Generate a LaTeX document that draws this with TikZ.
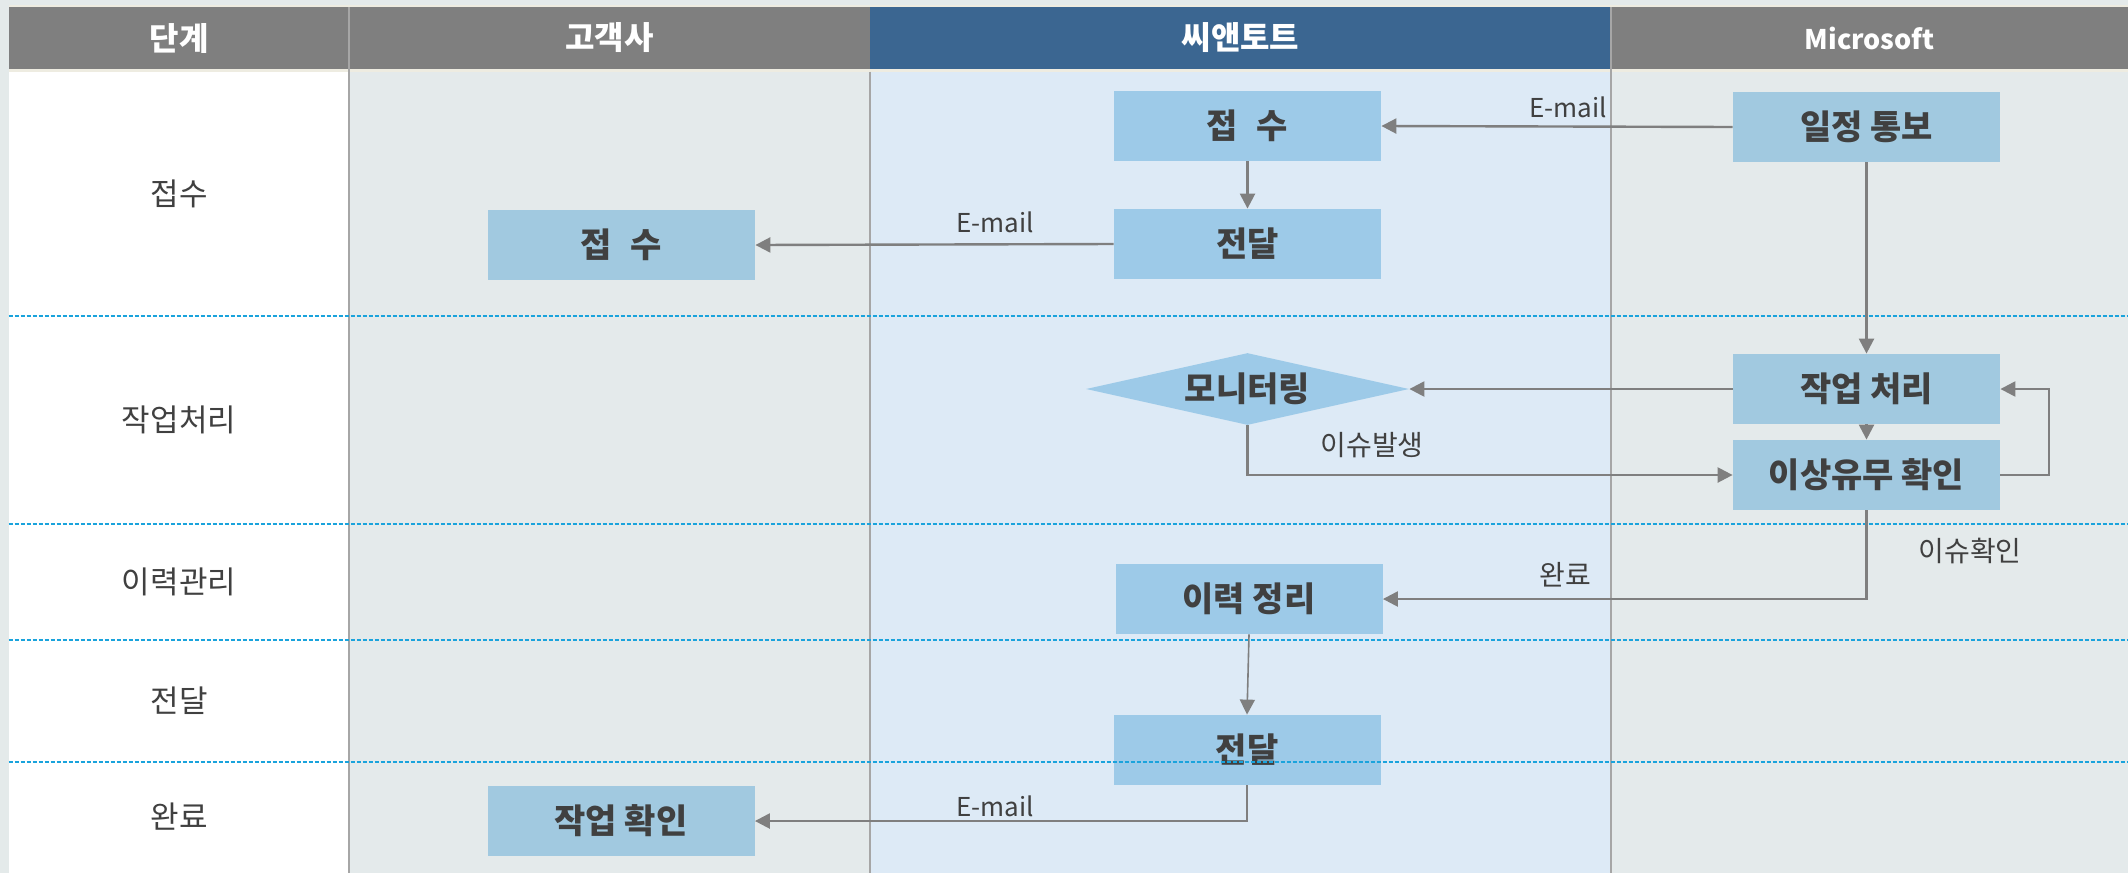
\documentclass[tikz,border=0pt]{standalone}
\usepackage{fontspec}
\setmainfont{Noto Sans CJK KR}
\usetikzlibrary{shapes.geometric,arrows.meta}
\definecolor{outerbg}{HTML}{E4EAEA}
\definecolor{beigeln}{HTML}{EEECE1}
\definecolor{hdrgray}{HTML}{7F7F7F}
\definecolor{hdrblue}{HTML}{3B6691}
\definecolor{colgray}{HTML}{E4EAEB}
\definecolor{colblue}{HTML}{DDEAF6}
\definecolor{sepgray}{HTML}{A6A6A6}
\definecolor{dashblue}{HTML}{1AA3DC}
\definecolor{boxC}{HTML}{9DCAE8}
\definecolor{boxM}{HTML}{A1C9E0}
\definecolor{txt}{HTML}{404040}
\definecolor{arr}{HTML}{7F7F7F}
\begin{document}
\begin{tikzpicture}[x=0.5pt,y=-0.5pt,
  hdr/.style={text=white,inner sep=0pt,font=\fontsize{16pt}{19pt}\selectfont\bfseries},
  rowlbl/.style={text=txt,inner sep=0pt,font=\fontsize{15.5pt}{18pt}\selectfont},
  proc/.style={rectangle,inner sep=0pt,minimum width=133.5pt,minimum height=35pt,text=txt,font=\fontsize{17pt}{20pt}\selectfont\bfseries},
  procC/.style={proc,fill=boxC},
  procM/.style={proc,fill=boxM},
  decision/.style={diamond,inner sep=0pt,shape aspect=4.49,minimum width=161.5pt,minimum height=36pt,fill=boxC,text=txt,font=\fontsize{17pt}{20pt}\selectfont\bfseries},
  flow/.style={draw=arr,line width=1.2pt,-{Triangle[length=7.5pt,width=7.5pt]}},
  thinflow/.style={draw=arr,line width=0.8pt,-{Triangle[length=7.5pt,width=7.5pt]}},
  flowlbl/.style={text=txt,inner sep=0pt,font=\fontsize{13pt}{15pt}\selectfont},
  korlbl/.style={flowlbl,font=\fontsize{14pt}{16pt}\selectfont},
  rowsep/.style={draw=dashblue,line width=0.6pt,dash pattern=on 2pt off 1pt},
  colsep/.style={draw=sepgray,line width=0.8pt}
]
\useasboundingbox (0,0) rectangle (2128,873);
% backgrounds
\fill[outerbg] (0,0) rectangle (2128,873);
\fill[beigeln] (8.7,5) rectangle (2128,72);
\fill[hdrgray] (8.7,7) rectangle (870,68.5);
\fill[hdrblue] (870,7) rectangle (1611,68.5);
\fill[hdrgray] (1611,7) rectangle (2128,68.5);
\fill[white] (8.7,71.5) rectangle (349,873);
\fill[colgray] (349,71.5) rectangle (870,873);
\fill[colblue] (870,71.5) rectangle (1611,873);
\fill[colgray] (1611,71.5) rectangle (2128,873);
% column separators
\draw[colsep] (349,7) -- (349,873);
\draw[colsep] (870,71.5) -- (870,873);
\draw[colsep] (1611,7) -- (1611,873);
% headers
\node[hdr] (h1) at (179,38) {단계};
\node[hdr] (h2) at (609.5,38) {고객사};
\node[hdr] (h3) at (1240.5,38) {씨앤토트};
\node[hdr,font=\fontsize{13.5pt}{16pt}\selectfont\bfseries] (h4) at (1869.5,38) {Microsoft};
% row labels
\node[rowlbl] (r1) at (179,194) {접수};
\node[rowlbl] (r2) at (179,420) {작업처리};
\node[rowlbl] (r3) at (179,582) {이력관리};
\node[rowlbl] (r4) at (179,701) {전달};
\node[rowlbl] (r5) at (179,817) {완료};
% process nodes
\node[procC] (cRecv) at (1247.5,126) {접\hspace{0.55em}수};
\node[procC] (cSend1) at (1247.5,244) {전달};
\node[procM] (kRecv) at (621.5,245) {접\hspace{0.55em}수};
\node[procM] (mNotify) at (1866.5,127) {일정 통보};
\node[decision] (mon) at (1247.5,389) {모니터링};
\node[procM] (mWork) at (1866.5,389) {작업 처리};
\node[procM] (mCheck) at (1866.5,475) {이상유무 확인};
\node[procC] (cHist) at (1249,599) {이력 정리};
\node[procC] (cSend2) at (1247,750) {전달};
\node[procM] (kConfirm) at (621,821) {작업 확인};
% row separators (drawn over boxes)
\draw[rowsep] (8.7,316) -- (2128,316);
\draw[rowsep] (8.7,524) -- (2128,524);
\draw[rowsep] (8.7,640) -- (2128,640);
\draw[rowsep] (8.7,762) -- (2128,762);
% connectors
\coordinate (loop) at (2049,389);
\draw[flow] (mNotify.west) -- (cRecv.east);
\draw[flow] (cRecv.south) -- (cSend1.north);
\draw[flow] (cSend1.west) -- (kRecv.east);
\draw[flow] (mNotify.south) -- (mWork.north);
\draw[flow] (mWork.west) -- (mon.east);
\draw[flow] (mWork.south) -- (mCheck.north);
\draw[flow] (mCheck.east) -| (loop) -- (mWork.east);
\draw[flow] (mon.south) |- (mCheck.west);
\draw[flow] (mCheck.south) |- (cHist.east);
\draw[thinflow] (cHist.south) -- (cSend2.north);
\draw[flow] (cSend2.south) |- (kConfirm.east);
% connector labels
\node[flowlbl] (l1) at (1568,107) {E-mail};
\node[flowlbl] (l2) at (995,222) {E-mail};
\node[korlbl] (l3) at (1372,445) {이슈발생};
\node[korlbl] (l4) at (1565,575) {완료};
\node[korlbl] (l5) at (1970,551) {이슈확인};
\node[flowlbl] (l6) at (995,806) {E-mail};
\end{tikzpicture}
\end{document}
